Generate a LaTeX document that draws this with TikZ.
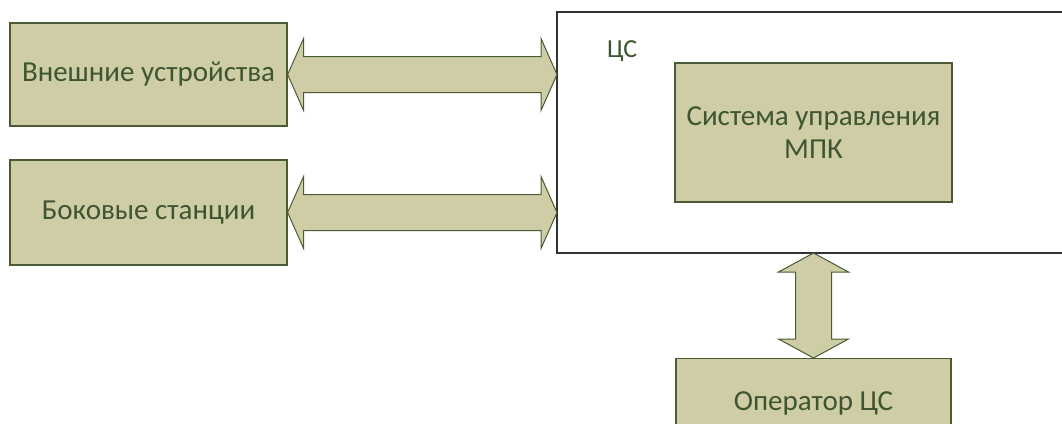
\documentclass[tikz,border=0pt]{standalone}
\usepackage{fontspec}
\setmainfont{Carlito}
\usetikzlibrary{calc}
\definecolor{boxfill}{HTML}{CFCDA6}
\definecolor{boxline}{HTML}{4A5A32}
\definecolor{boxtext}{HTML}{3E5531}
\definecolor{frameline}{HTML}{333333}
\tikzset{
  block/.style={draw=boxline, line width=1.2pt, fill=boxfill, text=boxtext,
    font=\fontsize{29}{33}\selectfont, align=center, inner sep=0pt},
  frame/.style={draw=frameline, line width=1.2pt, fill=white},
  busarrow/.style={draw=boxline, line width=1pt, fill=boxfill, line join=miter},
}
% horizontal double arrow between two tips: #1 left tip, #2 right tip
\newcommand\hbus[2]{%
  \draw[busarrow] (#1) -- ($(#1)+(16,-36)$) -- ($(#1)+(16,-18)$) -- ($(#2)+(-16,-18)$)
    -- ($(#2)+(-16,-36)$) -- (#2) -- ($(#2)+(-16,36)$) -- ($(#2)+(-16,18)$)
    -- ($(#1)+(16,18)$) -- ($(#1)+(16,36)$) -- cycle;}
% vertical double arrow between two tips: #1 upper tip, #2 lower tip
\newcommand\vbus[2]{%
  \draw[busarrow] (#1) -- ($(#1)+(-35,19)$) -- ($(#1)+(-18,19)$) -- ($(#2)+(-18,-19)$)
    -- ($(#2)+(-35,-19)$) -- (#2) -- ($(#2)+(35,-19)$) -- ($(#2)+(18,-19)$)
    -- ($(#1)+(18,19)$) -- ($(#1)+(35,19)$) -- cycle;}
\begin{document}
\begin{tikzpicture}[x=1pt,y=-1pt]
  \useasboundingbox (0,0) rectangle (1062,423);
  \clip (0,0) rectangle (1062,423);

  % central station frame (runs past the right edge)
  \draw[frame] (557,12) coordinate (csnw) rectangle (1080,253) coordinate (csse);
  \node[anchor=base west, text=boxtext, font=\fontsize{26}{30}\selectfont, inner sep=0pt] (cslabel) at (607,57) {ЦС};

  % blocks
  \node[block, minimum width=277pt, minimum height=103pt] (ext) at (148.5,74.5) {Внешние устройства};
  \node[block, minimum width=277pt, minimum height=105pt] (side) at (148.5,212.5) {Боковые станции};
  \node[block, minimum width=277pt, minimum height=139pt] (mpk) at (813.5,132.5) {Система управления\\МПК};
  \node[block, minimum width=275pt, minimum height=90pt, anchor=north] (op) at (813.5,358) {Оператор ЦС};

  % tips of the connectors on the frame
  \coordinate (csA) at (csnw |- ext.east);
  \coordinate (csB) at (csnw |- side.east);
  \coordinate (csC) at (op.north |- csse);

  \hbus{ext.east}{csA}
  \hbus{side.east}{csB}
  \vbus{csC}{op.north}
\end{tikzpicture}
\end{document}
